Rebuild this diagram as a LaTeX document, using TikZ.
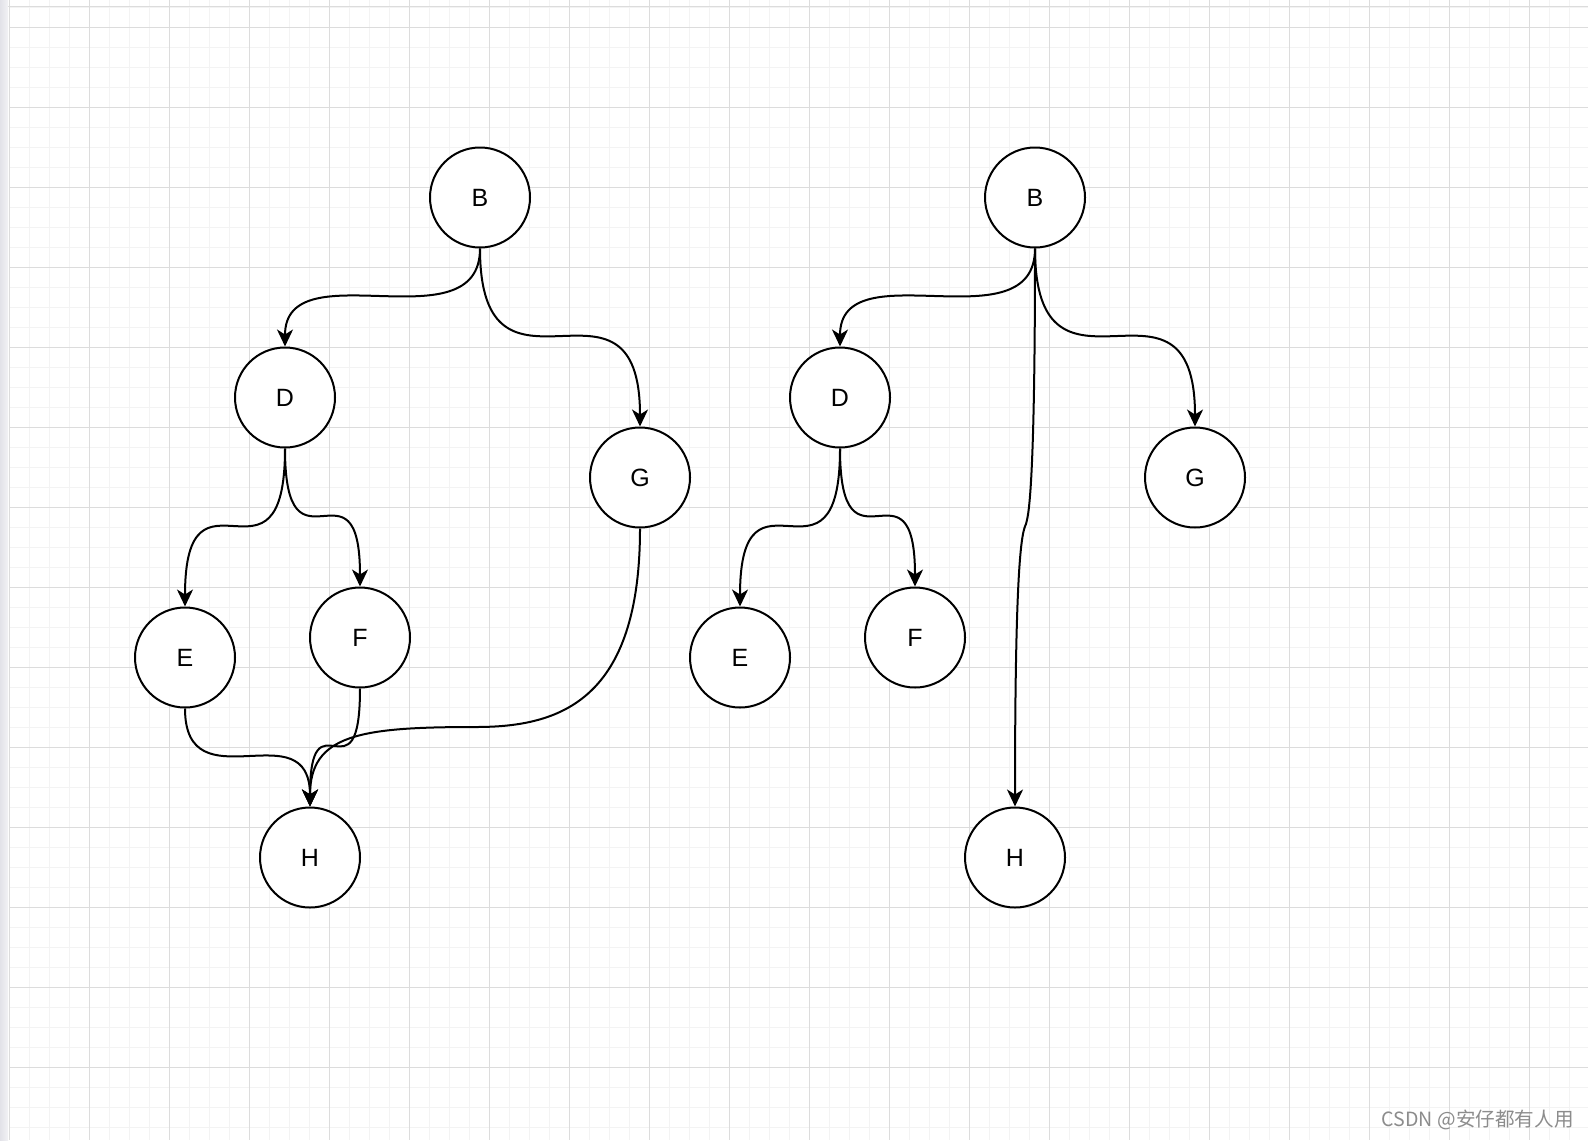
\documentclass[tikz,border=0pt]{standalone}
\usepackage{fontspec}
\setmainfont{Liberation Sans}
\newfontfamily\cjkfont{Noto Sans CJK SC}
\usetikzlibrary{arrows.meta,calc}
\definecolor{gridmajor}{HTML}{DCDCDC}
\definecolor{gridminor}{HTML}{F3F3F3}
\definecolor{barA}{HTML}{E2E2E8}
\definecolor{barB}{HTML}{F2F2F5}
\definecolor{wmgray}{HTML}{8C8C8C}
\tikzset{
  vtx/.style={circle,draw=black,line width=1pt,minimum size=50pt,inner sep=0pt,fill=white,
    font=\fontsize{12.5pt}{14pt}\selectfont},
  vlabel/.style={yshift=-0.6pt},
  arr/.style={line width=1pt,-{Stealth[length=8.5pt,width=8pt,inset=2.5pt]}},
  vcurve/.style={to path={.. controls (\tikztostart |- \tikztotarget) and (\tikztotarget |- \tikztostart) .. (\tikztotarget)}},
  minorline/.style={draw=gridminor,line width=0.5pt},
  majorline/.style={draw=gridmajor,line width=0.5pt}
}
\begin{document}
\begin{tikzpicture}[x=0.5pt,y=-0.5pt]
\useasboundingbox (0,0) rectangle (1588,1140);
\fill[white] (0,0) rectangle (1588,1140);
% grid
\foreach \x in {29,49,...,1589} \draw[minorline] (\x,0) -- (\x,1140);
\foreach \y in {7,27,...,1140} \draw[minorline] (10,\y) -- (1588,\y);
\foreach \x in {9,89,...,1589} \draw[majorline] (\x,0) -- (\x,1140);
\foreach \y in {27,107,...,1140} \draw[majorline] (10,\y) -- (1588,\y);
\draw[majorline] (0,6.5) -- (1588,6.5);
\shade[left color=barA,right color=barB] (0,0) rectangle (8,1140);

% left tree
\node[vtx] (B1) at (480,197.5) {\raisebox{-0.6pt}{B}};
\node[vtx] (D1) at (285,397.5) {\raisebox{-0.6pt}{D}};
\node[vtx] (G1) at (640,477.5) {\raisebox{-0.6pt}{G}};
\node[vtx] (E1) at (185,657.5) {\raisebox{-0.6pt}{E}};
\node[vtx] (F1) at (360,637.5) {\raisebox{-0.6pt}{F}};
\node[vtx] (H1) at (310,857.5) {\raisebox{-0.6pt}{H}};
\coordinate (gh) at (476,727);

\draw[arr] (B1.south) to[vcurve] (D1.north);
\draw[arr] (B1.south) to[vcurve] (G1.north);
\draw[arr] (D1.south) to[vcurve] (E1.north);
\draw[arr] (D1.south) to[vcurve] (F1.north);
\draw[arr] (E1.south) to[vcurve] (H1.north);
\draw[arr] (F1.south) to[vcurve] (H1.north);
\draw[arr] (G1.south) .. controls +(0,172) and +(84,0) .. (gh)
                      .. controls +(-116,0) and +(0,-72) .. (H1.north);

% right tree
\node[vtx] (B2) at (1035,197.5) {\raisebox{-0.6pt}{B}};
\node[vtx] (D2) at (840,397.5) {\raisebox{-0.6pt}{D}};
\node[vtx] (G2) at (1195,477.5) {\raisebox{-0.6pt}{G}};
\node[vtx] (E2) at (740,657.5) {\raisebox{-0.6pt}{E}};
\node[vtx] (F2) at (915,637.5) {\raisebox{-0.6pt}{F}};
\node[vtx] (H2) at (1015,857.5) {\raisebox{-0.6pt}{H}};
\coordinate (bh) at (1026,524);

\draw[arr] (B2.south) to[vcurve] (D2.north);
\draw[arr] (B2.south) to[vcurve] (G2.north);
\draw[arr] (D2.south) to[vcurve] (E2.north);
\draw[arr] (D2.south) to[vcurve] (F2.north);
\draw[arr] (B2.south) .. controls +(0,250) and +(2,-8) .. (bh)
                      .. controls +(-4,8) and +(0,-250) .. (H2.north);

% watermark
\node[anchor=east,text=wmgray,inner sep=0pt,font=\cjkfont\fontsize{9.8pt}{11pt}\selectfont] (wm) at (1574,1120) {CSDN @安仔都有人用};
\end{tikzpicture}
\end{document}
